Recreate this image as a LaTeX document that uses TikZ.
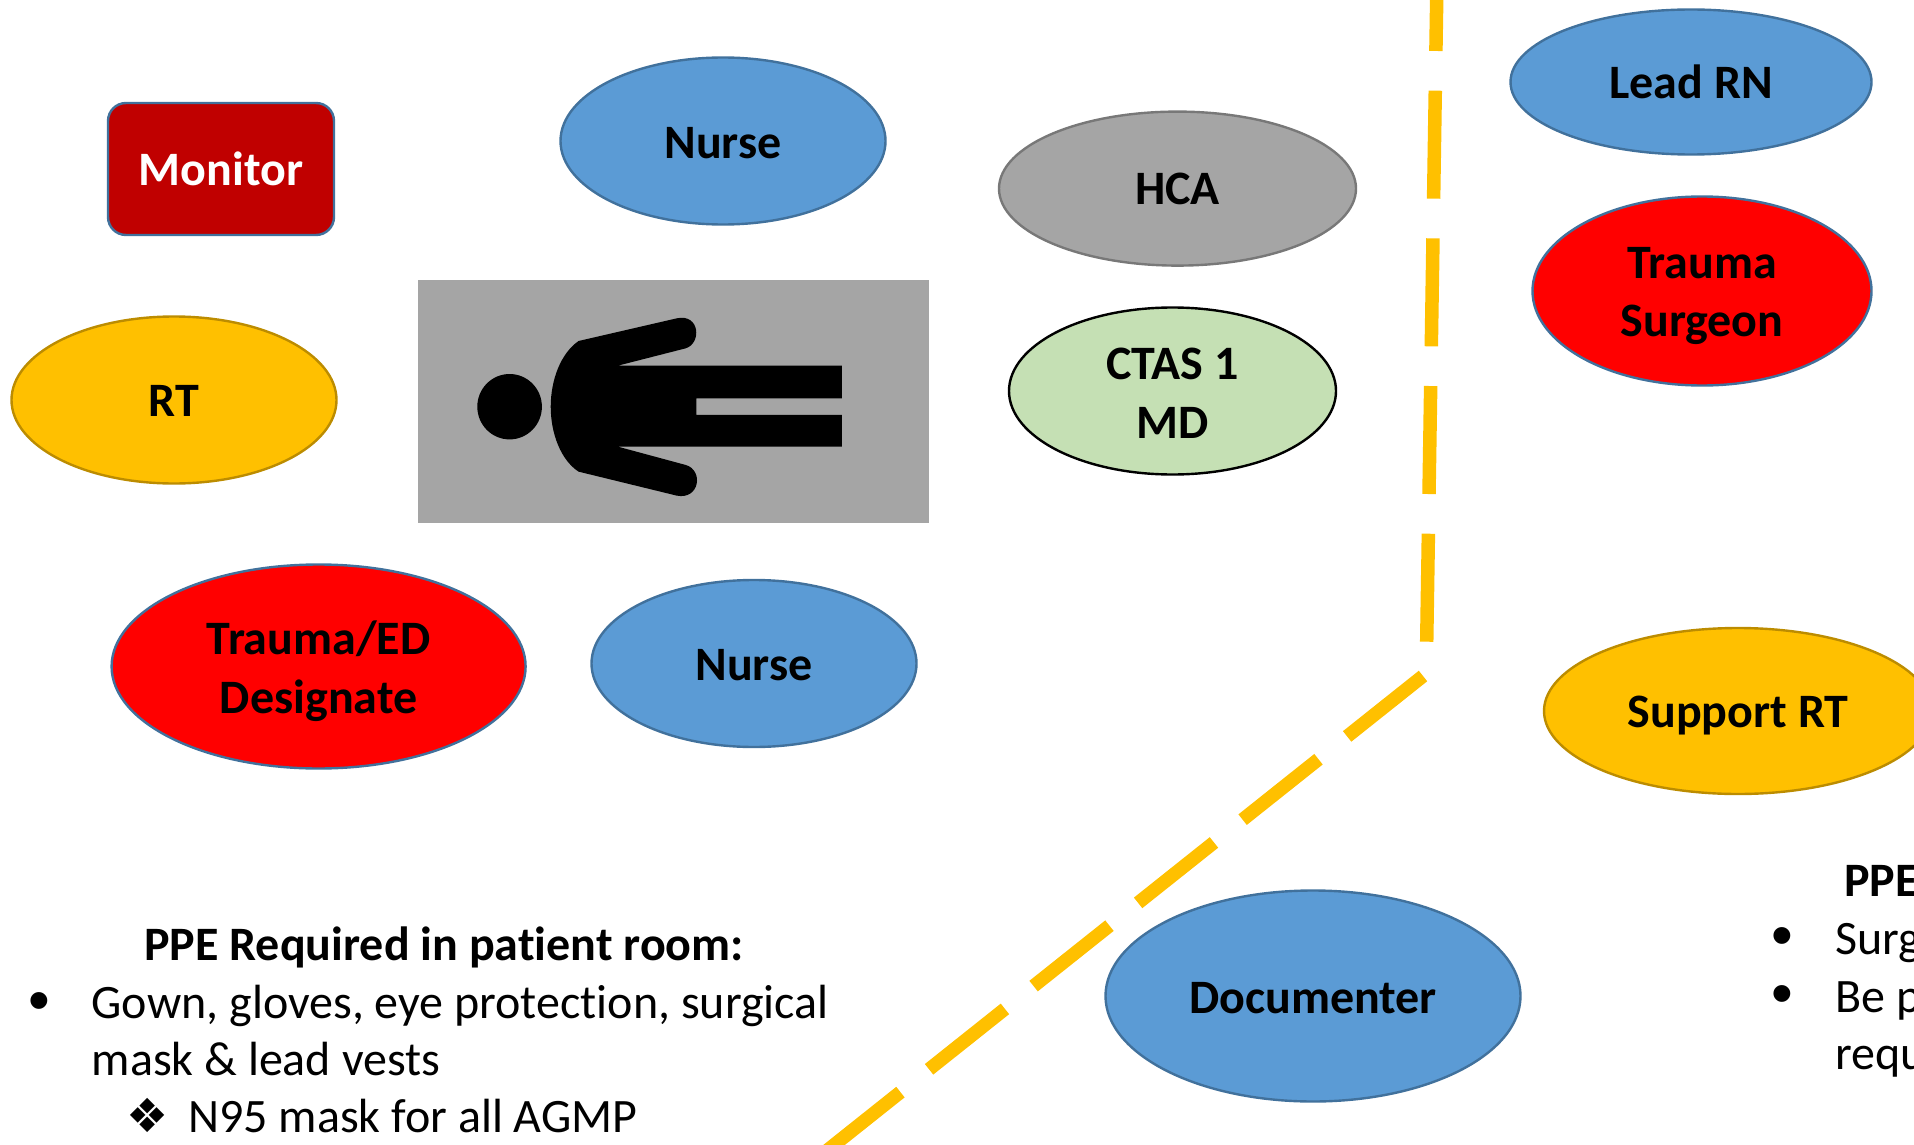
\documentclass[tikz,border=0pt]{standalone}
\usepackage{fontspec}
\setmainfont[Ligatures=NoCommon]{Carlito}
\newfontfamily\bulletfont{Liberation Sans}
\newfontfamily\dingfont{DejaVu Sans}
\usetikzlibrary{shapes.geometric}
\newcommand{\lowered}[2]{\raisebox{-#1}[\height][\depth]{#2}}
\definecolor{amber}{HTML}{FFC000}
\definecolor{amberline}{HTML}{BC8C00}
\definecolor{bluefill}{HTML}{5B9BD5}
\definecolor{blueline}{HTML}{41719C}
\definecolor{grayfill}{HTML}{A5A5A5}
\definecolor{grayline}{HTML}{787878}
\definecolor{greenfill}{HTML}{C5E0B4}
\definecolor{monitorred}{HTML}{C00000}
\tikzset{
  role/.style={ellipse,draw,line width=2.4pt,inner sep=0pt,align=center,text=black,
    font=\fontsize{48}{58.6}\selectfont\bfseries},
  bluerole/.style={role,fill=bluefill,draw=blueline},
  redrole/.style={role,fill=red,draw=blueline},
  amberrole/.style={role,fill=amber,draw=amberline},
  grayrole/.style={role,fill=grayfill,draw=grayline},
  greenrole/.style={role,fill=greenfill,draw=black},
  barrier/.style={draw=amber,line width=13.5pt,line cap=butt},
  ppehead/.style={anchor=base west,inner sep=0pt,font=\fontsize{48}{58}\selectfont\bfseries},
  ppetext/.style={anchor=base west,inner sep=0pt,font=\fontsize{48}{58}\selectfont},
  ppebullet/.style={anchor=base,inner sep=0pt,font=\fontsize{62}{58}\selectfont\bulletfont},
  ppeding/.style={anchor=base,inner sep=0pt,font=\fontsize{47}{58}\selectfont\dingfont}
}
\begin{document}
\begin{tikzpicture}[x=1pt,y=-1pt]
\useasboundingbox (0,0) rectangle (1914,1145);
\clip (0,0) rectangle (1914,1145);
% patient
\fill[grayfill] (418,279.5) rectangle (929,522.7);
\fill[black] (509.6,406.7) ellipse [x radius=32.3,y radius=32.7];
\begin{scope}[shift={(400,260)},x=0.35714pt,y=-0.3333pt]
\fill[black] (1237,317) -- (610,317) -- (800,265)
  .. controls (845,250) and (840,160) .. (775,175)
  -- (500,243)
  .. controls (450,280) and (422,360) .. (422,440)
  .. controls (422,520) and (450,600) .. (500,635)
  -- (775,707)
  .. controls (840,720) and (850,630) .. (800,615)
  -- (610,560) -- (1237,560) -- (1237,465) -- (830,465) -- (830,415) -- (1237,415) -- cycle;
\end{scope}
% barrier
\coordinate (v0) at (1426.7,641.7);
\coordinate (v1) at (1437,-20);
\coordinate (d0) at (1423,676);
\coordinate (d1) at (808,1165.7);
\draw[barrier,dash pattern=on 108pt off 39.7pt] (v0) -- (v1);
\draw[barrier,dash pattern=on 97pt off 36.6pt] (d0) -- (d1);
% roles
\node[rounded corners=18pt,draw=blueline,line width=2.4pt,fill=monitorred,text=white,inner sep=0pt,
  minimum width=226pt,minimum height=132pt,font=\fontsize{48}{58.6}\selectfont\bfseries] (monitor) at (221,169) {Monitor};
\node[bluerole,minimum width=325pt,minimum height=167pt] (nurseA) at (723,141) {\lowered{2.5pt}{Nurse}};
\node[grayrole,minimum width=357pt,minimum height=154pt] (hca) at (1177.5,188.6) {HCA};
\node[greenrole,minimum width=327pt,minimum height=167pt] (ctas) at (1172.5,391) {\lowered{2.5pt}{CTAS 1}\\\lowered{2.5pt}{MD}};
\node[bluerole,minimum width=361pt,minimum height=145pt] (lead) at (1691,82) {Lead RN};
\node[redrole,minimum width=339pt,minimum height=189pt] (surgeon) at (1702,291) {\lowered{5pt}{Trauma}\\\lowered{5pt}{Surgeon}};
\node[amberrole,minimum width=388pt,minimum height=166pt] (support) at (1738,711) {\lowered{5pt}{Support RT}};
\node[amberrole,minimum width=325pt,minimum height=167pt] (rt) at (174,400) {\lowered{1pt}{RT}};
\node[redrole,minimum width=414pt,minimum height=204pt] (designate) at (318.6,666.5) {\lowered{5pt}{Trauma/ED}\\\lowered{5pt}{Designate}};
\node[bluerole,minimum width=325pt,minimum height=167pt] (nurseB) at (754,663.5) {\lowered{2pt}{Nurse}};
\node[bluerole,minimum width=415pt,minimum height=211pt] (documenter) at (1313,996) {\lowered{2.5pt}{Documenter}};
% PPE left
\node[ppehead] (lhead) at (144,960) {PPE Required in patient room:};
\node[ppebullet] (lb) at (39,1021) {•};
\node[ppetext] (l1) at (91.5,1018) {Gown, gloves, eye protection, surgical};
\node[ppetext] (l2) at (91.5,1075) {mask \& lead vests};
\node[ppeding] (ld) at (148,1132) {❖};
\node[ppetext] (l3) at (188,1132) {N95 mask for all AGMP};
% PPE right
\node[ppehead] (rhead) at (1844,896.5) {PPE};
\node[ppebullet] (rb1) at (1782,956.5) {•};
\node[ppetext] (r1) at (1835,954) {Surg};
\node[ppebullet] (rb2) at (1782,1014.5) {•};
\node[ppetext] (r2) at (1835,1012) {Be p};
\node[ppetext] (r3) at (1835,1069.6) {requ};
\end{tikzpicture}
\end{document}
